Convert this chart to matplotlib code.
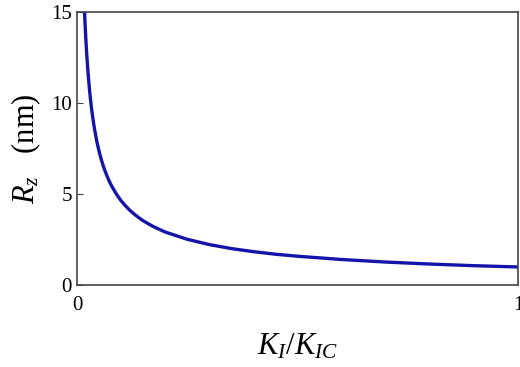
import matplotlib
matplotlib.use("Agg")
import matplotlib.pyplot as plt

plt.rcParams['font.family'] = 'Liberation Serif'
plt.rcParams['mathtext.fontset'] = 'custom'
plt.rcParams['mathtext.it'] = 'Liberation Serif:italic'
plt.rcParams['mathtext.rm'] = 'Liberation Serif'

# stress intensity ratio and zone radius (nm)
k_ratio = [0.015, 0.017, 0.018, 0.02, 0.022, 0.025, 0.028, 0.03, 0.033, 0.035,
           0.038, 0.04, 0.045, 0.05, 0.055, 0.06, 0.065, 0.07, 0.075, 0.08,
           0.09, 0.1, 0.11, 0.12, 0.13, 0.14, 0.15, 0.17, 0.18, 0.2, 0.25,
           0.3, 0.35, 0.4, 0.45, 0.5, 0.6, 0.7, 0.8, 0.9, 1.0]
r_zone = [16.44, 15.12, 14.56, 13.57, 12.74, 11.70, 10.85, 10.36, 9.72, 9.35,
          8.85, 8.55, 7.90, 7.37, 6.91, 6.52, 6.19, 5.89, 5.62, 5.39,
          4.98, 4.64, 4.36, 4.11, 3.90, 3.71, 3.54, 3.26, 3.14, 2.92, 2.52,
          2.23, 2.01, 1.84, 1.70, 1.59, 1.41, 1.27, 1.16, 1.07, 1.00]

fig = plt.figure(figsize=(5.2, 3.67), dpi=100)
ax = fig.add_axes([0.148, 0.223, 0.848, 0.744])
ax.plot(k_ratio, r_zone, color='#1414aa', lw=2.4)

ax.set_xlim(0, 1)
ax.set_ylim(0, 15)
ax.set_xticks([0, 1])
ax.set_yticks([0, 5, 10, 15])
ax.tick_params(axis='both', direction='in', labelsize=15, length=4, color='#444444')
ax.tick_params(axis='x', length=0, pad=8)
for s in ax.spines.values():
    s.set_color('#444444')
    s.set_linewidth(1.2)

ax.set_xlabel(r'$K_I/K_{IC}$', fontsize=22, labelpad=12)
ax.set_ylabel(r'$R_z$   (nm)', fontsize=22, labelpad=6)

fig.savefig('out.png', dpi=100)
